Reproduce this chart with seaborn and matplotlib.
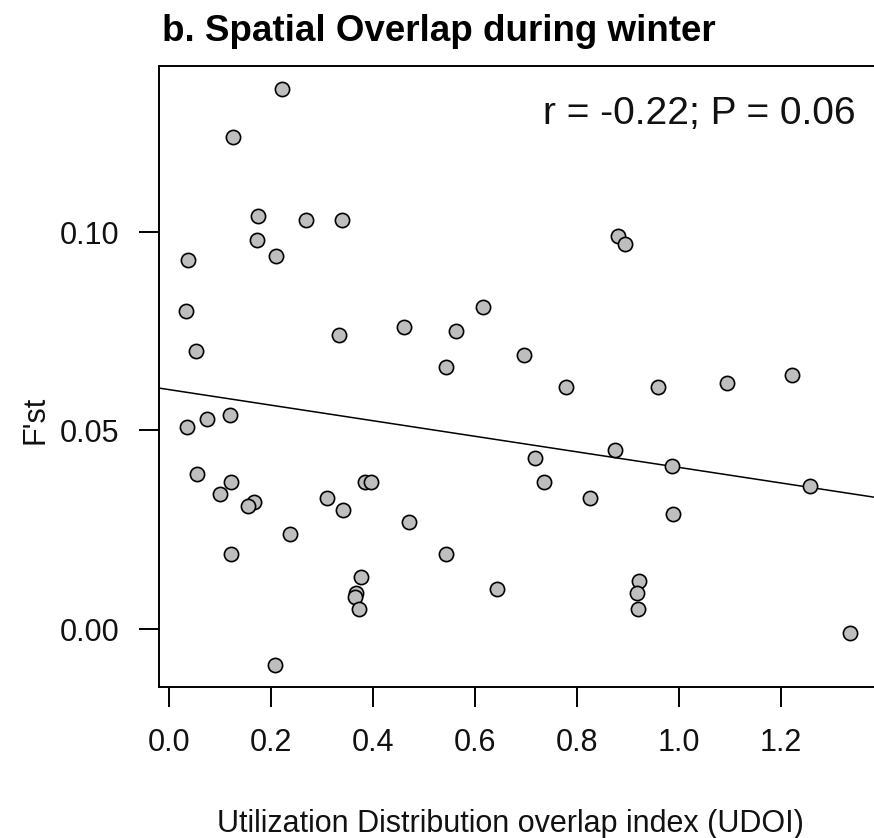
import matplotlib
matplotlib.use("Agg")
import matplotlib.pyplot as plt
import seaborn as sns
import pandas as pd

# ---- data ----
udoi = [0.222, 0.125, 0.175, 0.268, 0.339, 0.172, 0.210, 0.037, 0.034, 0.333,
        0.461, 0.562, 0.616, 0.052, 0.543, 0.036, 0.0745, 0.120, 0.055, 0.122,
        0.100, 0.167, 0.154, 0.309, 0.342, 0.384, 0.396, 0.237, 0.470, 0.122,
        0.543, 0.376, 0.366, 0.364, 0.372, 0.644, 0.208, 0.880, 0.895, 0.696,
        0.778, 0.958, 1.095, 1.222, 0.875, 0.718, 0.986, 0.736, 1.256, 0.825,
        0.988, 0.921, 0.918, 0.920, 1.335]
fst = [0.136, 0.124, 0.104, 0.103, 0.103, 0.098, 0.094, 0.093, 0.080, 0.074,
       0.076, 0.075, 0.081, 0.070, 0.066, 0.051, 0.053, 0.054, 0.039, 0.037,
       0.034, 0.032, 0.031, 0.033, 0.030, 0.037, 0.037, 0.024, 0.027, 0.019,
       0.019, 0.013, 0.009, 0.008, 0.005, 0.010, -0.009, 0.099, 0.097, 0.069,
       0.061, 0.061, 0.062, 0.064, 0.045, 0.043, 0.041, 0.037, 0.036, 0.033,
       0.029, 0.012, 0.009, 0.005, -0.001]
fit_intercept = 0.0603
fit_slope = -0.0196
x_ticks = [0.0, 0.2, 0.4, 0.6, 0.8, 1.0, 1.2]
y_ticks = [0.00, 0.05, 0.10]
title = "b. Spatial Overlap during winter"
annotation = "r = -0.22; P = 0.06"
x_label = "Utilization Distribution overlap index (UDOI)"
y_label = "F'st"

sns.set_theme(style="white")
plt.rcParams["font.family"] = ["Liberation Sans", "DejaVu Sans"]

W, H = 874, 838
fig = plt.figure(figsize=(W / 100, H / 100), dpi=100)

left_px, right_px, top_px, bottom_px = 159, 900, 66, 687
ax = fig.add_axes([left_px / W, 1 - bottom_px / H,
                   (right_px - left_px) / W, (bottom_px - top_px) / H])

df = pd.DataFrame({"udoi": udoi, "fst": fst})
sns.scatterplot(data=df, x="udoi", y="fst", ax=ax, s=105, color="#bebebe",
                edgecolor="black", linewidth=1.2, zorder=3)
ax.axline((0, fit_intercept), slope=fit_slope, color="black", lw=1.1, zorder=2)

# axis ranges (pixel calibration: x0=169, 510 px/unit; y0=629, 3970 px/unit)
ax.set_xlim((left_px - 169) / 510, (right_px - 169) / 510)
ax.set_ylim((629 - bottom_px) / 3970, (629 - top_px) / 3970)

ax.set_xticks(x_ticks)
ax.set_xticklabels([f"{v:.1f}" for v in x_ticks])
ax.set_yticks(y_ticks)
ax.set_yticklabels([f"{v:.2f}" for v in y_ticks])
ax.tick_params(axis="both", which="major", direction="out", length=14.4,
               width=1.4, color="black", labelsize=22, labelcolor="#111111",
               bottom=True, left=True)
ax.tick_params(axis="x", pad=15)
ax.tick_params(axis="y", pad=14)
for sp in ax.spines.values():
    sp.set_linewidth(1.4)
    sp.set_color("black")

ax.set_xlabel("")
ax.set_ylabel("")

fig.text(162 / W, 1 - 41 / H, title, ha="left", va="baseline",
         fontsize=26.5, fontweight="bold", color="black")
fig.text(856 / W, 1 - 124 / H, annotation, ha="right", va="baseline",
         fontsize=28, color="#111111")
fig.text(217 / W, 1 - 832 / H, x_label, ha="left", va="baseline",
         fontsize=22, color="#111111")
fig.text(36 / W, 1 - 420 / H, y_label, ha="center", va="center",
         rotation=90, fontsize=22, color="#111111")

fig.savefig("out.png", dpi=100)
